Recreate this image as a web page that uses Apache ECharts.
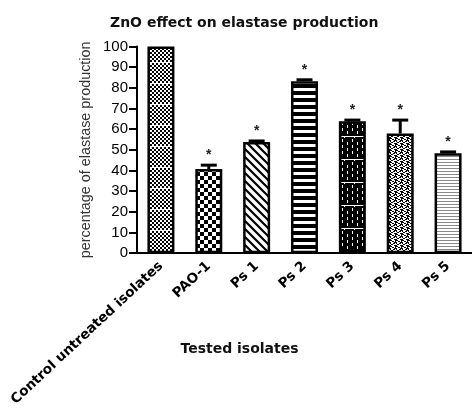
<!DOCTYPE html>
<html>
<head>
<meta charset="utf-8">
<script src="https://cdn.jsdelivr.net/npm/echarts@6/dist/echarts.min.js"></script>
<style>
html,body{margin:0;padding:0;background:#fff;}
#chart{width:472px;height:409px;}
</style>
</head>
<body>
<div id="chart"></div>
<script>
// ---- data ----
var categories = ['Control untreated isolates', 'PAO-1', 'Ps 1', 'Ps 2', 'Ps 3', 'Ps 4', 'Ps 5'];
var meanValues = [100, 40.7, 53.8, 83.2, 63.8, 57.9, 48.4];
var errorValues = [0, 1.9, 0.5, 0.7, 0.6, 6.5, 0.6];
var significant = [false, true, true, true, true, true, true];
var yTicks = [0, 10, 20, 30, 40, 50, 60, 70, 80, 90, 100];

// ---- fill patterns ----
function tile(w, h, draw) {
  var c = document.createElement('canvas');
  c.width = w; c.height = h;
  var g = c.getContext('2d');
  g.fillStyle = '#fff'; g.fillRect(0, 0, w, h);
  draw(g, w, h);
  return c;
}
var patterns = [
  // control: fine checker with white row lines
  tile(4, 21, function (g, w, h) {
    g.fillStyle = '#000';
    for (var y = 0; y < h; y += 2) for (var x = 0; x < w; x += 2) {
      if (((x + y) / 2) % 2 === 0) g.fillRect(x, y, 2, 2);
    }
    g.fillStyle = '#fff'; g.fillRect(0, 20, w, 1);
  }),
  // PAO-1: checkerboard
  tile(8, 8, function (g) {
    g.fillStyle = '#000';
    g.fillRect(0, 0, 4, 4); g.fillRect(4, 4, 4, 4);
  }),
  // Ps 1: diagonal lines
  tile(8, 8, function (g) {
    g.strokeStyle = '#000'; g.lineWidth = 2.2;
    g.beginPath();
    g.moveTo(-2, -2); g.lineTo(10, 10);
    g.moveTo(-2, 6); g.lineTo(2, 10);
    g.moveTo(6, -2); g.lineTo(10, 2);
    g.stroke();
  }),
  // Ps 2: thick horizontal stripes
  tile(4, 7, function (g) {
    g.fillStyle = '#000'; g.fillRect(0, 0, 4, 4);
  }),
  // Ps 3: black with white dashes (brick)
  tile(10, 23, function (g, w, h) {
    g.fillStyle = '#000'; g.fillRect(0, 0, w, h);
    g.fillStyle = '#fff';
    for (var y = 1; y < 19; y += 6) { g.fillRect(2, y, 1, 3); g.fillRect(7, y + 3, 1, 3); }
    g.fillRect(0, 21, w, 1);
    g.fillRect(4, 21, 1, 2);
  }),
  // Ps 4: dense zigzag texture
  tile(6, 6, function (g) {
    g.fillStyle = '#000';
    g.fillRect(0, 0, 2, 1); g.fillRect(2, 1, 2, 1); g.fillRect(4, 2, 2, 1);
    g.fillRect(3, 3, 2, 1); g.fillRect(1, 4, 2, 1); g.fillRect(0, 5, 1, 1);
    g.fillRect(5, 0, 1, 2); g.fillRect(0, 2, 1, 2); g.fillRect(4, 5, 2, 1);
  }),
  // Ps 5: thin gray horizontal lines
  tile(4, 3, function (g) {
    g.fillStyle = '#8a8a8a'; g.fillRect(0, 0, 4, 1);
  })
];

var barData = meanValues.map(function (v, i) {
  return {
    value: v,
    itemStyle: { color: { image: patterns[i], repeat: 'repeat' } }
  };
});
var errData = meanValues.map(function (v, i) {
  return [i, v, v + errorValues[i], significant[i] ? 1 : 0];
});

var font = "'Liberation Sans', Arial, sans-serif";
var boldFont = "'DejaVu Sans', 'Liberation Sans', Arial, sans-serif";
var chart = echarts.init(document.getElementById('chart'), null, { renderer: 'canvas' });
chart.setOption({
  animation: false,
  backgroundColor: '#fff',
  title: {
    text: 'ZnO effect on elastase production',
    left: 105,
    top: 11,
    textStyle: { fontFamily: boldFont, fontSize: 14, fontWeight: 'bold', color: '#111' }
  },
  grid: { left: 137, top: 46.5, width: 338, height: 209.5 },
  xAxis: {
    type: 'category',
    data: categories,
    name: 'Tested isolates',
    nameLocation: 'middle',
    nameGap: 89,
    nameMoveOverlap: false,
    nameTextStyle: { fontFamily: boldFont, fontSize: 14, fontWeight: 'bold', color: '#111', padding: [0, 130, 0, 0] },
    axisLine: { lineStyle: { color: '#000', width: 2 } },
    axisTick: { alignWithLabel: true, length: 6, lineStyle: { color: '#000', width: 2 } },
    axisLabel: { rotate: 43, interval: 0, margin: 11, fontFamily: boldFont, fontSize: 13.6, fontWeight: 'bold', color: '#000' }
  },
  yAxis: {
    type: 'value',
    min: 0, max: 100, interval: 10,
    name: 'percentage of elastase production',
    nameLocation: 'middle',
    nameGap: 44,
    nameMoveOverlap: false,
    nameTextStyle: { fontFamily: font, fontSize: 14.4, color: '#333' },
    axisLine: { show: true, lineStyle: { color: '#000', width: 2 } },
    axisTick: { show: true, length: 8, lineStyle: { color: '#000', width: 2 } },
    axisLabel: {
      margin: 9, fontFamily: font, fontSize: 15, color: '#000',
      formatter: function (v) { return yTicks.indexOf(v) >= 0 ? String(v) : ''; }
    },
    splitLine: { show: false }
  },
  series: [
    {
      type: 'bar',
      data: barData,
      barWidth: 27,
      itemStyle: { borderColor: '#000', borderWidth: 2.5 },
      z: 2
    },
    {
      type: 'custom',
      data: errData,
      z: 3,
      renderItem: function (params, api) {
        var x = api.value(0);
        var p0 = api.coord([x, api.value(1)]);
        var p1 = api.coord([x, api.value(2)]);
        var children = [];
        if (api.value(2) > api.value(1)) {
          children.push({ type: 'line', shape: { x1: p0[0], y1: p0[1], x2: p1[0], y2: p1[1] }, style: { stroke: '#000', lineWidth: 3 } });
          children.push({ type: 'rect', shape: { x: p1[0] - 8, y: p1[1] - 1.5, width: 16, height: 3 }, style: { fill: '#000' } });
        }
        if (api.value(3)) {
          children.push({ type: 'text', x: p1[0], y: p1[1] - 3, style: { text: '*', fontFamily: font, fontSize: 14, fontWeight: 'bold', fill: '#222', align: 'center', verticalAlign: 'bottom' } });
        }
        return { type: 'group', children: children };
      }
    }
  ]
});
</script>
</body>
</html>
